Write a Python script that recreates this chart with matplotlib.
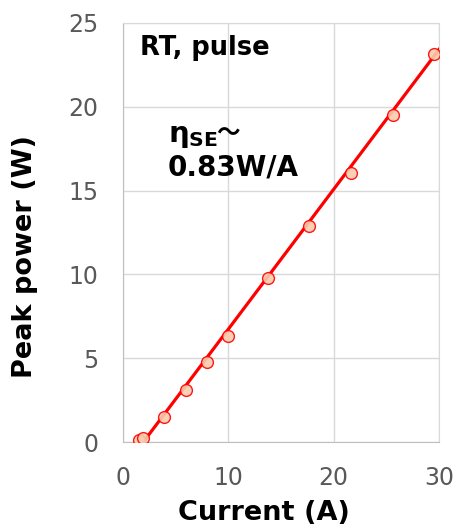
import matplotlib

matplotlib.use("Agg")

import matplotlib.pyplot as plt  # noqa: E402

# measured points (current in A, peak power in W)
current_a = [1.55, 1.93, 3.92, 5.95, 7.94, 9.94, 13.8, 17.69, 21.65, 25.66, 29.55]
peak_power_w = [0.12, 0.26, 1.51, 3.10, 4.75, 6.34, 9.77, 12.9, 16.07, 19.51, 23.13]

# linear fit endpoints
fit_current_a = [1.93, 30.0]
fit_power_w = [0.0, 23.42]

x_ticks = [0, 10, 20, 30]
y_ticks = [0, 5, 10, 15, 20, 25]

plt.rcParams["mathtext.fontset"] = "custom"
plt.rcParams["mathtext.rm"] = "DejaVu Sans:bold"
plt.rcParams["mathtext.it"] = "DejaVu Sans:bold"

W, H = 455, 529
fig = plt.figure(figsize=(W / 100, H / 100), dpi=100)
ax = fig.add_axes([123 / W, 1 - 442 / H, 316 / W, 419 / H])

ax.plot(fit_current_a, fit_power_w, color="#ff0000", linewidth=2.3, zorder=3)
ax.plot(current_a, peak_power_w, linestyle="none", marker="o", markersize=8.5,
        markerfacecolor="#f8cbad", markeredgecolor="#ff0000", markeredgewidth=1.0,
        alpha=0.9, zorder=4)

ax.set_xlim(0, 30)
ax.set_ylim(0, 25)
ax.set_xticks(x_ticks)
ax.set_yticks(y_ticks)
ax.tick_params(length=0, labelsize=17, labelcolor="#595959", pad=17.5)
ax.grid(True, color="#d9d9d9", linewidth=1.0)
for side in ("top", "right"):
    ax.spines[side].set_color("#d9d9d9")
for side in ("left", "bottom"):
    ax.spines[side].set_color("#bfbfbf")
ax.set_axisbelow(True)

ax.set_xlabel("Current (A)", fontsize=19.5, fontweight="bold")
ax.set_ylabel("Peak power (W)", fontsize=19.5, fontweight="bold")
ax.xaxis.set_label_coords((264 - 123) / 316, (442 - 500) / 419)
ax.yaxis.set_label_coords((38 - 123) / 316, (442 - 257) / 419)

ax.text(140 / W, 1 - 55 / H, "RT, pulse", transform=fig.transFigure,
        fontsize=18.5, fontweight="bold")
ax.text(168 / W, 1 - 142 / H, r"$η_{SE}$", transform=fig.transFigure,
        fontsize=21)
ax.text(216 / W, 1 - 140 / H, "～", transform=fig.transFigure,
        fontsize=17, fontweight="bold", family=["Noto Sans CJK JP", "DejaVu Sans"])
ax.text(168 / W, 1 - 175 / H, "0.83W/A", transform=fig.transFigure,
        fontsize=20, fontweight="bold")

fig.savefig("out.png", dpi=100)
